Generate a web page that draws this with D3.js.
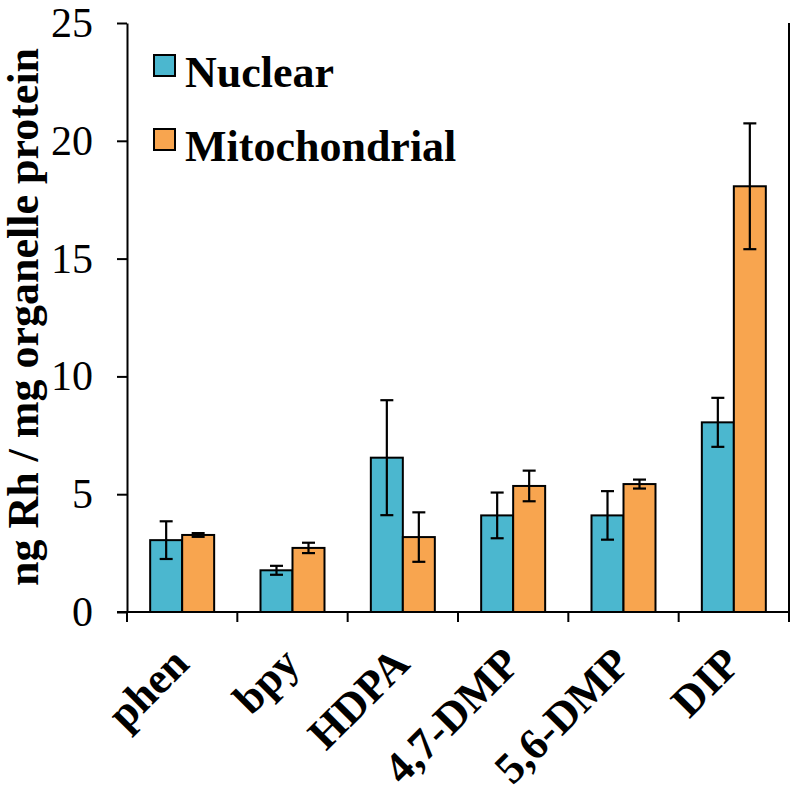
<!DOCTYPE html>
<html>
<head>
<meta charset="utf-8">
<script src="https://cdn.jsdelivr.net/npm/d3@7"></script>
<style>
  html, body { margin: 0; padding: 0; background: #fff; }
  svg { display: block; }
  svg text { font-family: "Liberation Serif", "Times New Roman", Tinos, "DejaVu Serif", serif; }
</style>
</head>
<body>
<svg id="chart" width="800" height="793"></svg>
<script>
// ---- data ----
const categories = ["phen", "bpy", "HDPA", "4,7-DMP", "5,6-DMP", "DIP"];
const seriesNames = ["Nuclear", "Mitochondrial"];
const nuclear = [3.05, 1.77, 6.55, 4.10, 4.10, 8.05];
const nuclearErr = [0.80, 0.19, 2.44, 0.97, 1.03, 1.04];
const mito = [3.27, 2.72, 3.18, 5.35, 5.43, 18.07];
const mitoErr = [0.08, 0.22, 1.05, 0.65, 0.19, 2.67];
const yTicks = [0, 5, 10, 15, 20, 25];
const yLabel = "ng Rh / mg organelle protein";
const colors = ["#4BB7CF", "#F8A54F"];

(function () {
// ---- layout ----
const svg = d3.select("#chart");
const mLeft = 127, mRight = 789, mTop = 23, mBottom = 612;

const x0 = d3.scaleBand().domain(categories).range([mLeft, mRight]).paddingInner(0).paddingOuter(0);
const bw = x0.bandwidth();
const x1 = d3.scaleBand().domain(seriesNames).range([bw * 0.21, bw * 0.79]).padding(0);
const y = d3.scaleLinear().domain([0, 25]).range([mBottom, mTop]);
const color = d3.scaleOrdinal().domain(seriesNames).range(colors);

const rows = categories.map((c, i) => ({
  cat: c,
  vals: [
    { s: "Nuclear", v: nuclear[i], e: nuclearErr[i] },
    { s: "Mitochondrial", v: mito[i], e: mitoErr[i] }
  ]
}));

// bars
const g = svg.append("g");
const groups = g.selectAll("g.cat").data(rows).join("g")
  .attr("class", "cat")
  .attr("transform", d => `translate(${x0(d.cat)},0)`);

groups.selectAll("rect").data(d => d.vals).join("rect")
  .attr("x", d => x1(d.s))
  .attr("y", d => y(d.v))
  .attr("width", x1.bandwidth())
  .attr("height", d => y(0) - y(d.v))
  .attr("fill", d => color(d.s))
  .attr("stroke", "#000")
  .attr("stroke-width", 2);

// error bars
const cap = 6.5;
const eb = groups.selectAll("g.err").data(d => d.vals).join("g").attr("class", "err")
  .attr("stroke", "#000").attr("stroke-width", 2.2);
eb.append("line")
  .attr("x1", d => x1(d.s) + x1.bandwidth() / 2)
  .attr("x2", d => x1(d.s) + x1.bandwidth() / 2)
  .attr("y1", d => y(d.v + d.e))
  .attr("y2", d => y(d.v - d.e));
eb.append("line")
  .attr("x1", d => x1(d.s) + x1.bandwidth() / 2 - cap)
  .attr("x2", d => x1(d.s) + x1.bandwidth() / 2 + cap)
  .attr("y1", d => y(d.v + d.e))
  .attr("y2", d => y(d.v + d.e));
eb.append("line")
  .attr("x1", d => x1(d.s) + x1.bandwidth() / 2 - cap)
  .attr("x2", d => x1(d.s) + x1.bandwidth() / 2 + cap)
  .attr("y1", d => y(d.v - d.e))
  .attr("y2", d => y(d.v - d.e));

// y axis
const yAxis = svg.append("g")
  .attr("transform", `translate(${mLeft},0)`)
  .call(d3.axisLeft(y).tickValues(yTicks).tickFormat(d3.format("d")).tickSize(10).tickPadding(24).tickSizeOuter(0));
yAxis.attr("font-family", null);
yAxis.select(".domain").attr("stroke", "#000").attr("stroke-width", 2);
yAxis.selectAll(".tick line").attr("stroke", "#000").attr("stroke-width", 2);
yAxis.selectAll(".tick text")
  .attr("font-size", 42).attr("fill", "#000");

// x axis (ticks at band boundaries)
const boundaries = categories.map(c => x0(c)).concat([mRight]);
svg.append("line")
  .attr("x1", mLeft - 10).attr("x2", mRight)
  .attr("y1", mBottom).attr("y2", mBottom)
  .attr("stroke", "#000").attr("stroke-width", 2);
svg.selectAll("line.xtick").data(boundaries).join("line")
  .attr("class", "xtick")
  .attr("x1", d => d).attr("x2", d => d)
  .attr("y1", mBottom).attr("y2", mBottom + 10)
  .attr("stroke", "#000").attr("stroke-width", 2);

// right border
svg.append("line")
  .attr("x1", mRight).attr("x2", mRight)
  .attr("y1", mTop).attr("y2", mBottom)
  .attr("stroke", "#000").attr("stroke-width", 2);

// x labels
svg.selectAll("text.xlab").data(categories).join("text")
  .attr("class", "xlab")
  .attr("transform", d => `translate(${x0(d) + bw / 2 + 9},${mBottom + 54}) rotate(-45)`)
  .attr("text-anchor", "end")
  .attr("font-weight", "bold").attr("font-size", 44)
  .attr("fill", "#000")
  .text(d => d);

// y label
svg.append("text")
  .attr("transform", `translate(38,317) rotate(-90)`)
  .attr("text-anchor", "middle")
  .attr("font-weight", "bold").attr("font-size", 44)
  .attr("fill", "#000")
  .text(yLabel);

// legend
const legend = svg.append("g");
const legendRows = legend.selectAll("g").data(seriesNames).join("g")
  .attr("transform", (d, i) => `translate(154,${55 + i * 74})`);
legendRows.append("rect")
  .attr("width", 21).attr("height", 21)
  .attr("fill", d => color(d))
  .attr("stroke", "#000").attr("stroke-width", 2);
legendRows.append("text")
  .attr("x", 31).attr("y", 32)
  .attr("font-weight", "bold").attr("font-size", 44)
  .attr("fill", "#000")
  .text(d => d);
})();
</script>
</body>
</html>
